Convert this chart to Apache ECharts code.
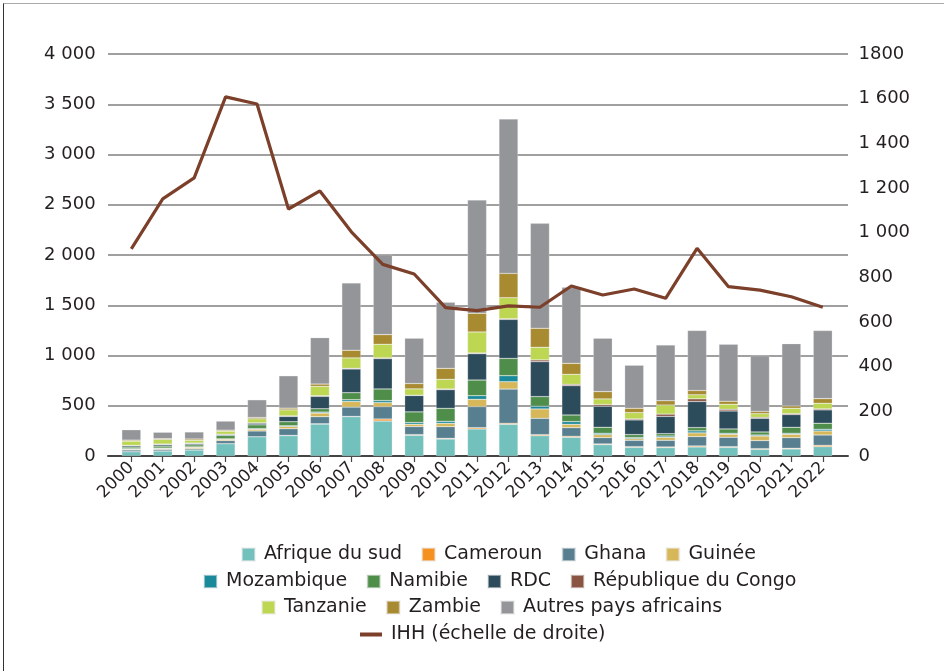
<!DOCTYPE html>
<html>
<head>
<meta charset="utf-8">
<script src="https://cdn.jsdelivr.net/npm/echarts@6/dist/echarts.min.js"></script>
<style>
  html, body { margin: 0; padding: 0; background: #fff; }
  #chart { position: absolute; left: 0; top: 0; width: 944px; height: 671px; }
  #frame { position: absolute; left: 3px; top: 3px; width: 960px; height: 700px;
           border-left: 1.5px solid #333; border-top: 1.5px solid #aaa; pointer-events: none; }
</style>
</head>
<body>
<div id="chart"></div>
<div id="frame"></div>
<script>
const years = ['2000','2001','2002','2003','2004','2005','2006','2007','2008','2009','2010','2011','2012','2013','2014','2015','2016','2017','2018','2019','2020','2021','2022'];

const afriqueDuSud = [43,50,60,123,192,202,318,391,348,206,169,269,315,202,186,113,86,83,90,86,66,70,93];
const cameroun     = [0,0,0,0,0,3,3,3,20,7,7,13,10,10,10,7,7,7,10,7,7,7,13];
const ghana        = [17,15,13,30,57,66,70,93,123,80,116,209,341,163,86,63,63,66,93,93,80,106,103];
const guinee       = [7,8,13,13,17,23,36,56,40,23,33,73,73,93,33,30,17,30,37,30,46,33,40];
const mozambique   = [5,6,5,5,7,7,10,17,20,17,20,36,60,27,27,13,10,13,20,10,10,10,17];
const namibie      = [17,20,20,33,37,40,33,70,116,106,129,156,172,96,66,60,30,23,33,43,30,60,60];
const rdc          = [13,15,13,10,17,53,123,236,302,163,186,262,388,348,292,209,146,172,259,179,136,126,133];
const repCongo     = [3,5,5,3,3,5,7,7,7,3,7,7,7,17,13,17,10,23,27,17,10,10,10];
const tanzanie     = [43,46,27,30,40,60,93,103,136,63,96,209,209,126,100,56,63,90,40,50,36,53,56];
const zambie       = [10,8,13,10,13,17,23,76,96,53,109,186,242,189,109,73,43,43,43,30,23,23,46];
const autres       = [103,63,70,90,176,322,461,670,796,451,657,1127,1536,1044,756,531,428,554,597,567,554,620,677];
const ihh          = [927,1151,1245,1608,1576,1106,1187,1004,858,815,664,651,672,666,761,721,748,706,930,758,743,713,666];

const leftTickLabels  = ['0','500','1 000','1 500','2 000','2 500','3 000','3 500','4 000'];
const rightTickLabels = ['0','200','400','600','800','1 000','1 200','1 400','1 600','1800'];

const FONT = 'DejaVu Sans';
const TXT = '#231f20';

const barDefs = [
  ['Afrique du sud', afriqueDuSud, '#73c1bd'],
  ['Cameroun', cameroun, '#f49120'],
  ['Ghana', ghana, '#577f8f'],
  ['Guinée', guinee, '#d6b85a'],
  ['Mozambique', mozambique, '#1a8a9b'],
  ['Namibie', namibie, '#4f8e4a'],
  ['RDC', rdc, '#2c4b5b'],
  ['République du Congo', repCongo, '#8a5443'],
  ['Tanzanie', tanzanie, '#bdd753'],
  ['Zambie', zambie, '#a88a30'],
  ['Autres pays africains', autres, '#939598']
];

const series = barDefs.map(([name, data, color]) => ({
  name, type: 'bar', stack: 'total', xAxisIndex: 0, yAxisIndex: 0,
  data, barWidth: 19,
  itemStyle: { color, borderColor: 'rgba(235,235,235,0.55)', borderWidth: 0.5 },
  emphasis: { disabled: true }
}));
series.push({
  name: 'IHH (échelle de droite)', type: 'line', xAxisIndex: 0, yAxisIndex: 1,
  data: ihh, symbol: 'none', z: 10,
  lineStyle: { color: '#7b3f2a', width: 3.2 }, itemStyle: { color: '#7b3f2a' }
});

const legendBase = {
  orient: 'horizontal', itemWidth: 13, itemHeight: 13, itemGap: 19, icon: 'rect',
  textStyle: { fontFamily: FONT, fontSize: 19, color: TXT, padding: [0,0,0,4] },
  selectedMode: false
};

const option = {
  animation: false,
  backgroundColor: '#fff',
  textStyle: { fontFamily: FONT },
  grid: [
    { left: 115.6, right: 105.5, top: 54, bottom: 215, outerBoundsMode: 'none' },
    { left: 108, right: 96, top: 54, bottom: 215, outerBoundsMode: 'none' }
  ],
  legend: [
    Object.assign({}, legendBase, { left: 236, top: 540, data: ['Afrique du sud','Cameroun','Ghana','Guinée'] }),
    Object.assign({}, legendBase, { left: 198, top: 567, data: ['Mozambique','Namibie','RDC','République du Congo'] }),
    Object.assign({}, legendBase, { left: 256, top: 593, data: ['Tanzanie','Zambie','Autres pays africains'] }),
    Object.assign({}, legendBase, { left: 355, top: 620, itemWidth: 22, itemHeight: 4,
      data: [{ name: 'IHH (échelle de droite)', icon: 'rect' }] })
  ],
  xAxis: [
    {
      type: 'category', gridIndex: 0, data: years,
      axisLine: { show: false },
      axisTick: { show: true, alignWithLabel: true, length: 6, lineStyle: { color: '#444', width: 1.2 } },
      axisLabel: { rotate: 45, margin: 9, fontSize: 17, color: TXT, fontFamily: FONT, interval: 0 },
      splitLine: { show: false }
    },
    {
      type: 'value', gridIndex: 1, min: 0, max: 1,
      axisLine: { show: true, lineStyle: { color: '#444', width: 2 } },
      axisTick: { show: false }, axisLabel: { show: false }, splitLine: { show: false }
    }
  ],
  yAxis: [
    {
      type: 'value', gridIndex: 0, position: 'left', min: 0, max: 4000, interval: 500,
      axisLine: { show: false }, axisTick: { show: false }, splitLine: { show: false },
      axisLabel: { margin: 20, fontSize: 18, color: TXT, fontFamily: FONT,
        formatter: v => leftTickLabels[Math.round(v / 500)] }
    },
    {
      type: 'value', gridIndex: 0, position: 'right', min: 0, max: 1800, interval: 200,
      axisLine: { show: false }, axisTick: { show: false }, splitLine: { show: false },
      axisLabel: { margin: 20, fontSize: 18, color: TXT, fontFamily: FONT,
        formatter: v => rightTickLabels[Math.round(v / 200)] }
    },
    {
      type: 'value', gridIndex: 1, min: 0, max: 4000, interval: 500,
      axisLine: { show: false }, axisTick: { show: false }, axisLabel: { show: false },
      splitLine: { show: true, lineStyle: { color: '#808080', width: 1.6 } }
    }
  ],
  series
};

const chart = echarts.init(document.getElementById('chart'), null, { renderer: 'canvas' });
chart.setOption(option);
</script>
</body>
</html>
